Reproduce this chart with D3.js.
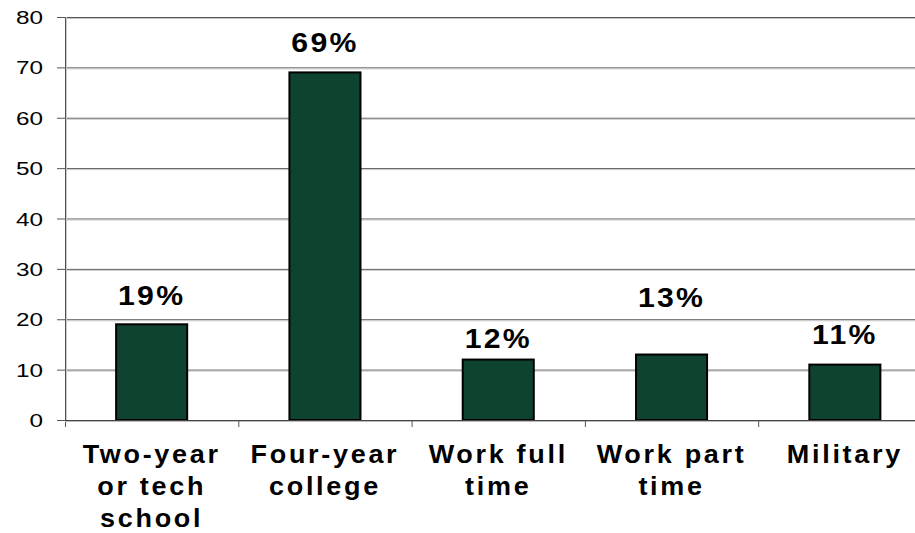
<!DOCTYPE html>
<html>
<head>
<meta charset="utf-8">
<script src="https://cdn.jsdelivr.net/npm/d3@7"></script>
<style>
  html, body { margin: 0; padding: 0; background: #fff; }
  svg { display: block; }
</style>
</head>
<body>
<svg id="chart" width="915" height="533"></svg>
<script>
// ---- data ----
const categories = [
  ["Two-year", "or tech", "school"],
  ["Four-year", "college"],
  ["Work full", "time"],
  ["Work part", "time"],
  ["Military"]
];
const values = [19, 69, 12, 13, 11];
const valueLabels = ["19%", "69%", "12%", "13%", "11%"];
// label baseline positions, in axis units (as placed in the original)
const labelAt = [22.8, 73.1, 14.3, 22.4, 15.1];
const yTicks = [0, 10, 20, 30, 40, 50, 60, 70, 80];

// ---- layout ----
const plotLeft = 65, plotTop = 17, plotBottom = 420, step = 173.3;
const plotRight = plotLeft + step * categories.length;
const keys = categories.map((c, i) => i);

const svg = d3.select("#chart");
const y = d3.scaleLinear().domain([0, 80]).range([plotBottom, plotTop]);
const xBand = d3.scaleBand().domain(keys).range([plotLeft, plotRight]).paddingInner(0.59).paddingOuter(0.295);
const xCat = d3.scaleBand().domain(keys).range([plotLeft, plotRight]).padding(0);

// gridlines
const grid = svg.append("g");
grid.selectAll("line.g1").data(yTicks.filter(t => t > 0)).join("line")
  .attr("x1", plotLeft).attr("x2", plotRight)
  .attr("y1", d => y(d) + 0.5).attr("y2", d => y(d) + 0.5)
  .attr("stroke", "#555").attr("stroke-width", 1);
grid.selectAll("line.g2").data(yTicks.filter(t => t > 0)).join("line")
  .attr("x1", plotLeft).attr("x2", plotRight)
  .attr("y1", d => y(d) + 1.5).attr("y2", d => y(d) + 1.5)
  .attr("stroke", "#c8c8c8").attr("stroke-width", 1);

// y axis
svg.append("line").attr("x1", plotLeft + 0.5).attr("x2", plotLeft + 0.5).attr("y1", plotTop).attr("y2", plotBottom + 7)
  .attr("stroke", "#555").attr("stroke-width", 1);
svg.append("line").attr("x1", plotLeft + 1.5).attr("x2", plotLeft + 1.5).attr("y1", plotTop).attr("y2", plotBottom)
  .attr("stroke", "#c8c8c8").attr("stroke-width", 1);
svg.selectAll("line.yt").data(yTicks).join("line")
  .attr("x1", plotLeft - 8).attr("x2", plotLeft)
  .attr("y1", d => y(d) + 0.5).attr("y2", d => y(d) + 0.5)
  .attr("stroke", "#555");
svg.selectAll("text.yl").data(yTicks).join("text")
  .attr("transform", d => `translate(43,${y(d) + 7}) scale(1.35,1)`)
  .attr("text-anchor", "end")
  .attr("font-family", "'Liberation Sans', Arial, sans-serif")
  .attr("font-size", 18).attr("fill", "#000")
  .text(d => d);

// bars
svg.selectAll("rect.bar").data(values).join("rect")
  .attr("x", (d, i) => xBand(i))
  .attr("y", d => y(d))
  .attr("width", xBand.bandwidth())
  .attr("height", d => plotBottom - y(d))
  .attr("fill", "#0e4330").attr("stroke", "#000").attr("stroke-width", 2);

// x axis
svg.append("line").attr("x1", plotLeft).attr("x2", plotRight).attr("y1", plotBottom + 0.5).attr("y2", plotBottom + 0.5)
  .attr("stroke", "#444").attr("stroke-width", 1);
svg.append("line").attr("x1", plotLeft).attr("x2", plotRight).attr("y1", plotBottom + 1.5).attr("y2", plotBottom + 1.5)
  .attr("stroke", "#bbb").attr("stroke-width", 1);
svg.selectAll("line.xt").data(keys.slice(1)).join("line")
  .attr("x1", d => xCat(d) + 0.5).attr("x2", d => xCat(d) + 0.5)
  .attr("y1", plotBottom).attr("y2", plotBottom + 7)
  .attr("stroke", "#555");

// value labels
svg.selectAll("text.vl").data(valueLabels).join("text")
  .attr("transform", (d, i) => `translate(${xBand(i) + xBand.bandwidth() / 2},${y(labelAt[i])}) scale(1.12,1)`)
  .attr("text-anchor", "middle")
  .attr("font-family", "'Liberation Sans', Arial, sans-serif")
  .attr("font-weight", "bold").attr("font-size", 27)
  .attr("letter-spacing", 2)
  .attr("fill", "#000")
  .text(d => d);

// category labels
const cl = svg.selectAll("g.cl").data(categories).join("g")
  .attr("transform", (d, i) => `translate(${xCat(i) + xCat.bandwidth() / 2},463) scale(1.08,1)`);
cl.selectAll("text").data(d => d).join("text")
  .attr("y", (d, j) => j * 32)
  .attr("text-anchor", "middle")
  .attr("font-family", "'Liberation Sans', Arial, sans-serif")
  .attr("font-weight", "bold").attr("font-size", 25)
  .attr("letter-spacing", 2.5)
  .attr("fill", "#000")
  .text(d => d);
</script>
</body>
</html>
